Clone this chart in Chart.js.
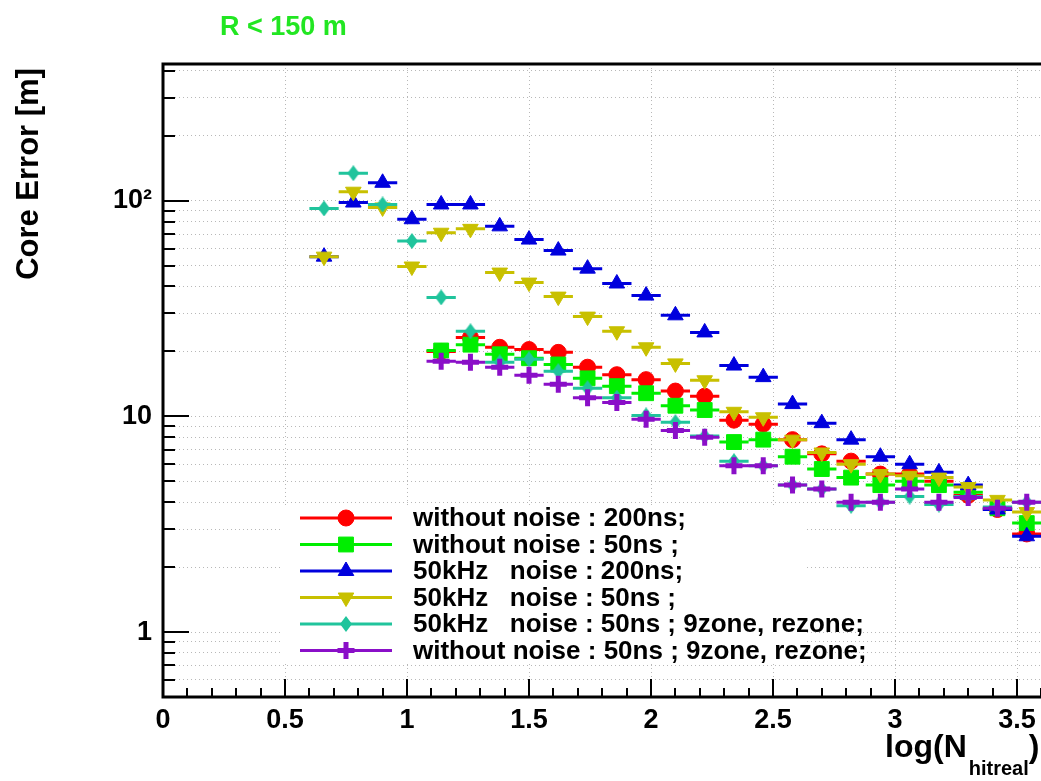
<!DOCTYPE html>
<html>
<head>
<meta charset="utf-8">
<title>Core Error vs log(N_hitreal)</title>
<script src="https://cdn.jsdelivr.net/npm/chart.js@4.4.1/dist/chart.umd.min.js"></script>
<style>
  html, body { margin: 0; padding: 0; background: #fff; overflow: hidden; }
  #wrap { width: 1200px; height: 781px; }
</style>
</head>
<body>
<div id="wrap"><canvas id="coreChart" width="1200" height="781"></canvas></div>
<script>
// bin centres in log(N_hitreal); every bin is 0.12 wide
const binCenters = [0.66, 0.78, 0.90, 1.02, 1.14, 1.26, 1.38, 1.50, 1.62, 1.74, 1.86, 1.98, 2.10,
                    2.22, 2.34, 2.46, 2.58, 2.70, 2.82, 2.94, 3.06, 3.18, 3.30, 3.42, 3.54];
const binWidth = 0.12;

// core error [m] per bin, null = empty bin
const noNoise200 = [null, null, null, null, 20.0, 23.2, 20.9, 20.4, 19.8, 16.9, 15.6, 14.8, 13.1,
                    12.4, 9.6, 9.2, 7.8, 6.7, 6.2, 5.4, 5.4, 5.0, 4.3, 3.7, 2.85];
const noNoise50 = [null, null, null, null, 20.2, 21.5, 19.4, 18.6, 17.4, 15.0, 13.8, 12.8, 11.2,
                   10.7, 7.6, 7.8, 6.5, 5.7, 5.2, 4.8, 5.0, 4.8, 4.45, 3.75, 3.2];
const noise200 = [55, 98, 121, 82, 96, 96, 76, 66, 58.7, 48.4, 41.3, 36.3, 29.4,
                  24.5, 17.2, 15.2, 11.4, 9.3, 7.8, 6.5, 6.0, 5.5, 4.8, 3.7, 2.78];
const noise50 = [55, 110, 93, 49.5, 71, 74, 46.4, 41.7, 35.9, 29.0, 24.8, 20.9, 17.6,
                 14.7, 10.5, 9.9, 7.8, 6.8, 6.0, 5.4, 5.3, 5.2, 4.7, 4.1, 3.6];
const noise50Rezone = [92, 134, 96, 65, 35.6, 24.8, 17.8, 18.4, 16.2, 13.5, 12.2, 10.1, 9.4,
                       8.1, 6.2, 5.9, 4.8, 4.6, 3.85, 4.0, 4.25, 3.9, 4.25, 3.8, 4.0];
const noNoise50Rezone = [null, null, null, null, 18.0, 17.8, 16.9, 15.5, 14.1, 12.2, 11.6, 9.7, 8.6,
                         8.0, 5.9, 5.9, 4.8, 4.6, 4.0, 4.0, 4.6, 4.0, 4.2, 3.75, 4.0];

const seriesLabels = [
  'without noise : 200ns;',
  'without noise : 50ns ;',
  '50kHz   noise : 200ns;',
  '50kHz   noise : 50ns ;',
  '50kHz   noise : 50ns ; 9zone, rezone;',
  'without noise : 50ns ; 9zone, rezone;'
];

// axis ranges and ticks
const xMin = 0, xMax = 4, xLabelStep = 0.5, xMinorStep = 0.1;
const yMin = 0.5, yMax = 430;
const yTickValues = [0.5, 0.6, 0.7, 0.8, 0.9, 1, 2, 3, 4, 5, 6, 7, 8, 9, 10, 20, 30, 40, 50, 60, 70, 80, 90,
                     100, 200, 300, 400];
const yLabels = { 1: '1', 10: '10', 100: '10\u00B2' };

const FONT = '"Liberation Sans", Arial, Helvetica, sans-serif';

function toPoints(values) {
  return binCenters.map((x, i) => ({ x: x, y: values[i] })).filter(p => p.y !== null);
}

// narrow diamond marker (ROOT style 33-ish)
function diamondMarker(color) {
  const c = document.createElement('canvas');
  c.width = 12; c.height = 16;
  const g = c.getContext('2d');
  g.fillStyle = color;
  g.beginPath();
  g.moveTo(6, 0); g.lineTo(12, 8); g.lineTo(6, 16); g.lineTo(0, 8);
  g.closePath();
  g.fill();
  return c;
}

const styles = [
  { color: '#ff0000', pointStyle: 'circle', radius: 8, rotation: 0, bw: 1 },
  { color: '#00ee00', pointStyle: 'rect', radius: 10.5, rotation: 0, bw: 1 },
  { color: '#0000dd', pointStyle: 'triangle', radius: 9, rotation: 0, bw: 1 },
  { color: '#c8c000', pointStyle: 'triangle', radius: 9, rotation: 180, bw: 1 },
  { color: '#20c49c', pointStyle: diamondMarker('#20c49c'), radius: 8, rotation: 0, bw: 0 },
  { color: '#8a0fc8', pointStyle: 'cross', radius: 8.5, rotation: 0, bw: 5 }
];
const seriesValues = [noNoise200, noNoise50, noise200, noise50, noise50Rezone, noNoise50Rezone];

const datasets = seriesValues.map((vals, i) => ({
  label: seriesLabels[i],
  data: toPoints(vals),
  showLine: false,
  pointStyle: styles[i].pointStyle,
  pointRadius: styles[i].radius,
  pointRotation: styles[i].rotation,
  pointBorderWidth: styles[i].bw,
  backgroundColor: styles[i].color,
  borderColor: styles[i].color,
  order: seriesValues.length - i   // first series drawn first, last on top
}));

// horizontal bin-width bars under each marker
const errorBars = {
  id: 'errorBars',
  beforeDatasetDraw(chart, args) {
    const ds = chart.data.datasets[args.index];
    const xs = chart.scales.x;
    const ctx = chart.ctx;
    ctx.save();
    ctx.strokeStyle = ds.borderColor;
    ctx.lineWidth = 3;
    ctx.beginPath();
    args.meta.data.forEach((pt, i) => {
      const raw = ds.data[i];
      ctx.moveTo(xs.getPixelForValue(raw.x - binWidth / 2), pt.y);
      ctx.lineTo(xs.getPixelForValue(raw.x + binWidth / 2), pt.y);
    });
    ctx.stroke();
    ctx.restore();
  }
};

// ROOT-like frame, inward ticks, legend and titles
const rootFrame = {
  id: 'rootFrame',
  afterDatasetsDraw(chart) {
    const ctx = chart.ctx;
    const a = chart.chartArea;
    const xs = chart.scales.x, ys = chart.scales.y;
    ctx.save();
    ctx.strokeStyle = '#000';
    ctx.lineWidth = 2;
    ctx.beginPath();
    yTickValues.forEach(v => {
      if (v <= yMin) return;
      const y = Math.round(ys.getPixelForValue(v));
      const len = yLabels[v] ? 26 : 12;
      ctx.moveTo(a.left, y); ctx.lineTo(a.left + len, y);
    });
    for (let k = 1; k * xMinorStep < xMax; k++) {
      const v = k * xMinorStep;
      const x = Math.round(xs.getPixelForValue(v));
      const len = (k % 5 === 0) ? 18 : 9;
      ctx.moveTo(x, a.bottom); ctx.lineTo(x, a.bottom - len);
    }
    ctx.stroke();
    ctx.lineWidth = 3;
    ctx.strokeRect(a.left, a.top, a.right - a.left, a.bottom - a.top);

    // legend
    const box = { left: 281, top: 505, right: 806, bottom: 664 };
    ctx.fillStyle = '#fff';
    ctx.fillRect(box.left, box.top, box.right - box.left, box.bottom - box.top);
    ctx.font = 'bold 26px ' + FONT;
    ctx.textBaseline = 'middle';
    ctx.textAlign = 'left';
    chart.data.datasets.forEach((ds, i) => {
      const y = box.top + 13 + i * 26.5;
      const st = styles[i];
      ctx.strokeStyle = st.color;
      ctx.fillStyle = st.color;
      ctx.lineWidth = 3;
      ctx.beginPath();
      ctx.moveTo(300, y); ctx.lineTo(392, y);
      ctx.stroke();
      ctx.lineWidth = st.bw;
      Chart.helpers.drawPoint(ctx, {
        pointStyle: st.pointStyle, radius: st.radius, rotation: st.rotation, borderWidth: st.bw
      }, 346, y);
      ctx.fillStyle = '#000';
      ctx.fillText(ds.label, 413, y + 1);
    });
    ctx.restore();
  },
  afterDraw(chart) {
    const ctx = chart.ctx;
    ctx.save();
    ctx.textAlign = 'left';
    ctx.textBaseline = 'alphabetic';
    // pad title
    ctx.fillStyle = '#22e622';
    ctx.font = 'bold 27px ' + FONT;
    ctx.fillText('R < 150 m', 220, 35);
    // x axis title with subscript
    ctx.fillStyle = '#000';
    ctx.font = 'bold 32px ' + FONT;
    ctx.fillText('log(N', 885, 757);
    const w = ctx.measureText('log(N').width;
    ctx.font = 'bold 20px ' + FONT;
    ctx.fillText('hitreal', 885 + w + 2, 775);
    const ws = ctx.measureText('hitreal').width;
    ctx.font = 'bold 32px ' + FONT;
    ctx.fillText(')', 885 + w + 2 + ws, 757);
    // y axis title, aligned to the top of the axis
    ctx.translate(38, 68);
    ctx.rotate(-Math.PI / 2);
    ctx.textAlign = 'right';
    ctx.font = 'bold 31px ' + FONT;
    ctx.fillText('Core Error [m]', 0, 0);
    ctx.restore();
  }
};

const gridStyle = { color: '#b8b8b8', lineWidth: 1, drawTicks: false };
const tickFont = { family: FONT, size: 27, weight: 'bold' };

new Chart(document.getElementById('coreChart').getContext('2d'), {
  type: 'scatter',
  data: { datasets: datasets },
  options: {
    responsive: false,
    animation: false,
    layout: { padding: { left: 0, top: 64, right: 61, bottom: 0 } },
    plugins: { legend: { display: false }, tooltip: { enabled: false }, title: { display: false } },
    scales: {
      x: {
        type: 'linear',
        min: xMin,
        max: xMax,
        grid: gridStyle,
        border: { display: false, dash: [1, 3] },
        ticks: {
          stepSize: xLabelStep,
          autoSkip: false,
          maxRotation: 0,
          padding: 7,
          color: '#000',
          font: tickFont,
          callback: v => String(Math.round(v * 10) / 10)
        },
        afterFit: s => { s.height = 781 - 697; }
      },
      y: {
        type: 'logarithmic',
        min: yMin,
        max: yMax,
        grid: gridStyle,
        border: { display: false, dash: [1, 3] },
        afterBuildTicks: s => { s.ticks = yTickValues.map(v => ({ value: v })); },
        ticks: {
          autoSkip: false,
          padding: 11,
          color: '#000',
          font: tickFont,
          callback: v => yLabels[v] || ''
        },
        afterFit: s => { s.width = 163; }
      }
    }
  },
  plugins: [errorBars, rootFrame]
});
</script>
</body>
</html>
